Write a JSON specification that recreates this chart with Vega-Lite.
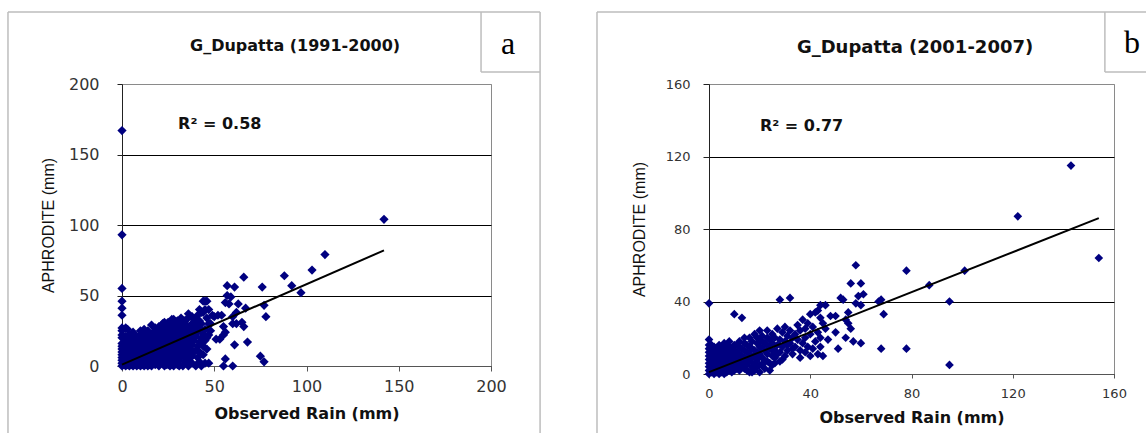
{
  "$schema": "https://vega.github.io/schema/vega-lite/v6.json",
  "padding": {"left": 6, "top": 10, "right": 1, "bottom": 0},
  "background": "white",
  "spacing": 53,
  "config": {
    "view": {"stroke": "#8a8a8a", "strokeWidth": 1},
    "axis": {"labelColor": "#333", "titleColor": "#111", "labelFont": "DejaVu Sans", "titleFont": "DejaVu Sans", "labelFlush": false}
  },
  "datasets": {
    "one": [{}],
    "a": [
      {"x":0,"y":0},{"x":0,"y":2},{"x":0,"y":4},{"x":0,"y":6},{"x":0,"y":8},{"x":0,"y":10},{"x":0,"y":12},{"x":0,"y":14},{"x":0,"y":16},{"x":0,"y":20},{"x":0,"y":22},{"x":0,"y":25},{"x":0,"y":27},{"x":0,"y":36},{"x":0,"y":41},{"x":0,"y":46},{"x":0,"y":55},{"x":0,"y":93},{"x":0,"y":167},{"x":2,"y":27},{"x":3,"y":20},{"x":3,"y":26},
      {"x":1,"y":1},{"x":1,"y":3},{"x":1,"y":5},{"x":1,"y":7},{"x":1,"y":9},{"x":1,"y":11},{"x":1,"y":13},{"x":1,"y":15},{"x":2,"y":0},{"x":2,"y":2},{"x":2,"y":4},{"x":2,"y":6},{"x":2,"y":8},{"x":2,"y":10},{"x":2,"y":12},{"x":2,"y":14},{"x":2,"y":17},{"x":3,"y":1},{"x":3,"y":3},{"x":3,"y":5},{"x":3,"y":7},{"x":3,"y":9},{"x":3,"y":11},{"x":3,"y":13},{"x":3,"y":16},{"x":4,"y":0},{"x":4,"y":2},{"x":4,"y":4},{"x":4,"y":6},{"x":4,"y":8},{"x":4,"y":10},{"x":4,"y":12},{"x":4,"y":14},{"x":4,"y":18},{"x":5,"y":1},{"x":5,"y":3},{"x":5,"y":5},{"x":5,"y":7},{"x":5,"y":9},{"x":5,"y":11},{"x":5,"y":13},{"x":5,"y":15},{"x":5,"y":19},{"x":6,"y":0},{"x":6,"y":2},{"x":6,"y":4},{"x":6,"y":6},{"x":6,"y":8},{"x":6,"y":10},{"x":6,"y":12},{"x":6,"y":16},{"x":6,"y":20},{"x":7,"y":1},{"x":7,"y":3},{"x":7,"y":5},{"x":7,"y":7},{"x":7,"y":9},{"x":7,"y":11},{"x":7,"y":14},{"x":7,"y":18},{"x":8,"y":0},{"x":8,"y":2},{"x":8,"y":4},{"x":8,"y":6},{"x":8,"y":8},{"x":8,"y":10},{"x":8,"y":13},{"x":8,"y":17},{"x":8,"y":21},{"x":9,"y":1},{"x":9,"y":3},{"x":9,"y":5},{"x":9,"y":7},{"x":9,"y":9},{"x":9,"y":12},{"x":9,"y":15},{"x":9,"y":19},{"x":10,"y":0},{"x":10,"y":2},{"x":10,"y":4},{"x":10,"y":6},{"x":10,"y":8},{"x":10,"y":11},{"x":10,"y":14},{"x":10,"y":17},{"x":10,"y":22},{"x":11,"y":1},{"x":11,"y":3},{"x":11,"y":5},{"x":11,"y":7},{"x":11,"y":10},{"x":11,"y":13},{"x":11,"y":16},{"x":11,"y":20},{"x":12,"y":0},{"x":12,"y":2},{"x":12,"y":4},{"x":12,"y":6},{"x":12,"y":9},{"x":12,"y":12},{"x":12,"y":15},{"x":12,"y":18},{"x":12,"y":23},{"x":13,"y":1},{"x":13,"y":3},{"x":13,"y":5},{"x":13,"y":8},{"x":13,"y":11},{"x":13,"y":14},{"x":13,"y":17},{"x":13,"y":21},{"x":14,"y":0},{"x":14,"y":2},{"x":14,"y":4},{"x":14,"y":7},{"x":14,"y":10},{"x":14,"y":13},{"x":14,"y":16},{"x":14,"y":19},{"x":14,"y":25},{"x":15,"y":1},{"x":15,"y":3},{"x":15,"y":6},{"x":15,"y":9},{"x":15,"y":12},{"x":15,"y":15},{"x":15,"y":18},{"x":15,"y":22},{"x":16,"y":0},{"x":16,"y":2},{"x":16,"y":5},{"x":16,"y":8},{"x":16,"y":11},{"x":16,"y":14},{"x":16,"y":17},{"x":16,"y":20},{"x":16,"y":29},{"x":17,"y":4},{"x":17,"y":7},{"x":17,"y":10},{"x":17,"y":13},{"x":17,"y":16},{"x":17,"y":19},{"x":17,"y":24},{"x":18,"y":1},{"x":18,"y":6},{"x":18,"y":9},{"x":18,"y":12},{"x":18,"y":15},{"x":18,"y":18},{"x":18,"y":22},{"x":19,"y":3},{"x":19,"y":8},{"x":19,"y":11},{"x":19,"y":14},{"x":19,"y":17},{"x":19,"y":21},{"x":19,"y":26},{"x":20,"y":0},{"x":20,"y":5},{"x":20,"y":10},{"x":20,"y":13},{"x":20,"y":16},{"x":20,"y":20},{"x":20,"y":24},
      {"x":21,"y":7},{"x":21,"y":12},{"x":21,"y":15},{"x":21,"y":19},{"x":21,"y":23},{"x":21,"y":28},{"x":22,"y":2},{"x":22,"y":10},{"x":22,"y":14},{"x":22,"y":18},{"x":22,"y":22},{"x":22,"y":26},{"x":23,"y":0},{"x":23,"y":8},{"x":23,"y":13},{"x":23,"y":17},{"x":23,"y":21},{"x":23,"y":25},{"x":23,"y":31},{"x":24,"y":5},{"x":24,"y":11},{"x":24,"y":16},{"x":24,"y":20},{"x":24,"y":24},{"x":24,"y":28},{"x":25,"y":1},{"x":25,"y":9},{"x":25,"y":14},{"x":25,"y":19},{"x":25,"y":23},{"x":25,"y":27},{"x":26,"y":0},{"x":26,"y":12},{"x":26,"y":17},{"x":26,"y":21},{"x":26,"y":25},{"x":26,"y":30},{"x":27,"y":4},{"x":27,"y":10},{"x":27,"y":15},{"x":27,"y":20},{"x":27,"y":24},{"x":27,"y":29},{"x":28,"y":0},{"x":28,"y":8},{"x":28,"y":13},{"x":28,"y":18},{"x":28,"y":22},{"x":28,"y":27},{"x":28,"y":33},{"x":29,"y":11},{"x":29,"y":16},{"x":29,"y":21},{"x":29,"y":26},{"x":29,"y":31},{"x":30,"y":2},{"x":30,"y":6},{"x":30,"y":14},{"x":30,"y":19},{"x":30,"y":24},{"x":30,"y":29},{"x":31,"y":0},{"x":31,"y":10},{"x":31,"y":17},{"x":31,"y":22},{"x":31,"y":27},{"x":32,"y":13},{"x":32,"y":20},{"x":32,"y":25},{"x":32,"y":30},{"x":33,"y":0},{"x":33,"y":8},{"x":33,"y":16},{"x":33,"y":23},{"x":33,"y":28},{"x":34,"y":11},{"x":34,"y":19},{"x":34,"y":26},{"x":34,"y":32},{"x":35,"y":4},{"x":35,"y":14},{"x":35,"y":21},{"x":35,"y":29},{"x":36,"y":0},{"x":36,"y":9},{"x":36,"y":17},{"x":36,"y":24},{"x":36,"y":37},{"x":37,"y":12},{"x":37,"y":20},{"x":37,"y":27},{"x":38,"y":7},{"x":38,"y":15},{"x":38,"y":23},{"x":38,"y":30},{"x":39,"y":18},{"x":39,"y":26},{"x":39,"y":33},{"x":40,"y":0},{"x":40,"y":11},{"x":40,"y":21},{"x":40,"y":29},{"x":41,"y":14},{"x":41,"y":24},{"x":41,"y":36},{"x":42,"y":17},{"x":42,"y":27},{"x":42,"y":32},{"x":43,"y":20},{"x":43,"y":30},{"x":43,"y":38},{"x":44,"y":23},{"x":44,"y":46},{"x":45,"y":2},{"x":45,"y":18},{"x":45,"y":26},{"x":45,"y":40},{"x":46,"y":46},{"x":46,"y":34},{"x":47,"y":22},{"x":47,"y":30},{"x":48,"y":25},{"x":49,"y":36},{"x":50,"y":35},{"x":51,"y":19},{"x":52,"y":36},{"x":53,"y":19},{"x":54,"y":36},{"x":55,"y":22},{"x":55,"y":28},{"x":56,"y":24},{"x":56,"y":45},{"x":57,"y":57},{"x":57,"y":50},{"x":58,"y":44},{"x":59,"y":49},{"x":60,"y":35},{"x":61,"y":56},{"x":62,"y":38},{"x":63,"y":44},{"x":56,"y":5},{"x":55,"y":0},{"x":60,"y":0},{"x":60,"y":30},{"x":61,"y":15},{"x":62,"y":30},{"x":65,"y":31},{"x":66,"y":28},{"x":66,"y":63},{"x":67,"y":41},{"x":68,"y":17},{"x":75,"y":7},{"x":76,"y":56},{"x":77,"y":3},{"x":77,"y":43},{"x":78,"y":35},{"x":88,"y":64},{"x":92,"y":57},{"x":97,"y":52},{"x":103,"y":68},{"x":110,"y":79},{"x":142,"y":104},{"x":45,"y":46},{"x":44,"y":38},{"x":42,"y":40},{"x":24,"y":1},{"x":30,"y":1},{"x":43,"y":0},{"x":47,"y":2},
      {"x":21,"y":3},{"x":22,"y":6},{"x":24,"y":8},{"x":26,"y":4},{"x":26,"y":8},{"x":27,"y":1},{"x":29,"y":4},{"x":29,"y":7},{"x":31,"y":4},{"x":32,"y":8},{"x":34,"y":3},{"x":34,"y":6},{"x":36,"y":5},{"x":37,"y":8},{"x":38,"y":2},{"x":39,"y":10},{"x":41,"y":6},{"x":42,"y":3},{"x":42,"y":10},{"x":44,"y":8},{"x":44,"y":14},{"x":46,"y":12},{"x":46,"y":20},{"x":48,"y":30},{"x":47,"y":40},{"x":40,"y":33},{"x":38,"y":35},{"x":35,"y":33},{"x":32,"y":34},{"x":20,"y":28},{"x":18,"y":27},{"x":10,"y":25},{"x":6,"y":24},{"x":4,"y":22},{"x":2,"y":21},{"x":12,"y":26},{"x":22,"y":30},{"x":25,"y":31},{"x":27,"y":33},{"x":30,"y":32}
    ],
    "b": [
      {"x":0,"y":0},{"x":0,"y":2},{"x":0,"y":4},{"x":0,"y":6},{"x":0,"y":8},{"x":0,"y":10},{"x":0,"y":12},{"x":0,"y":14},{"x":0,"y":16},{"x":0,"y":19},{"x":0,"y":39},
      {"x":1,"y":1},{"x":1,"y":3},{"x":1,"y":5},{"x":1,"y":7},{"x":1,"y":9},{"x":1,"y":11},{"x":1,"y":13},{"x":1,"y":16},{"x":2,"y":0},{"x":2,"y":2},{"x":2,"y":4},{"x":2,"y":6},{"x":2,"y":8},{"x":2,"y":10},{"x":2,"y":12},{"x":2,"y":15},{"x":3,"y":1},{"x":3,"y":3},{"x":3,"y":5},{"x":3,"y":7},{"x":3,"y":9},{"x":3,"y":11},{"x":3,"y":14},{"x":4,"y":0},{"x":4,"y":2},{"x":4,"y":4},{"x":4,"y":6},{"x":4,"y":8},{"x":4,"y":10},{"x":4,"y":13},{"x":4,"y":16},{"x":5,"y":1},{"x":5,"y":3},{"x":5,"y":5},{"x":5,"y":7},{"x":5,"y":9},{"x":5,"y":12},{"x":5,"y":15},{"x":6,"y":0},{"x":6,"y":2},{"x":6,"y":4},{"x":6,"y":6},{"x":6,"y":8},{"x":6,"y":11},{"x":6,"y":14},{"x":7,"y":1},{"x":7,"y":3},{"x":7,"y":5},{"x":7,"y":7},{"x":7,"y":10},{"x":7,"y":13},{"x":7,"y":16},{"x":8,"y":2},{"x":8,"y":4},{"x":8,"y":6},{"x":8,"y":9},{"x":8,"y":12},{"x":8,"y":15},{"x":9,"y":1},{"x":9,"y":3},{"x":9,"y":5},{"x":9,"y":8},{"x":9,"y":11},{"x":9,"y":14},{"x":10,"y":2},{"x":10,"y":4},{"x":10,"y":7},{"x":10,"y":10},{"x":10,"y":13},{"x":10,"y":33},{"x":11,"y":3},{"x":11,"y":6},{"x":11,"y":9},{"x":11,"y":12},{"x":11,"y":16},{"x":12,"y":2},{"x":12,"y":5},{"x":12,"y":8},{"x":12,"y":11},{"x":12,"y":15},{"x":13,"y":4},{"x":13,"y":7},{"x":13,"y":10},{"x":13,"y":14},{"x":13,"y":31},{"x":14,"y":3},{"x":14,"y":6},{"x":14,"y":9},{"x":14,"y":13},{"x":14,"y":17},{"x":15,"y":2},{"x":15,"y":5},{"x":15,"y":8},{"x":15,"y":12},{"x":15,"y":16},{"x":16,"y":1},{"x":16,"y":7},{"x":16,"y":11},{"x":16,"y":15},{"x":16,"y":20},{"x":17,"y":4},{"x":17,"y":9},{"x":17,"y":14},{"x":17,"y":18},{"x":18,"y":6},{"x":18,"y":10},{"x":18,"y":13},{"x":18,"y":22},{"x":19,"y":8},{"x":19,"y":12},{"x":19,"y":17},{"x":20,"y":5},{"x":20,"y":11},{"x":20,"y":15},{"x":20,"y":19},{"x":20,"y":24},{"x":21,"y":9},{"x":21,"y":14},{"x":21,"y":21},{"x":22,"y":7},{"x":22,"y":13},{"x":22,"y":17},{"x":23,"y":11},{"x":23,"y":16},{"x":23,"y":24},{"x":24,"y":6},{"x":24,"y":14},{"x":24,"y":19},{"x":25,"y":10},{"x":25,"y":17},{"x":25,"y":22},{"x":26,"y":6},{"x":26,"y":13},{"x":26,"y":20},{"x":27,"y":16},{"x":27,"y":25},{"x":28,"y":7},{"x":28,"y":12},{"x":28,"y":19},{"x":28,"y":41},{"x":29,"y":15},{"x":29,"y":23},{"x":30,"y":18},{"x":30,"y":26},{"x":31,"y":13},{"x":31,"y":21},{"x":32,"y":17},{"x":32,"y":24},{"x":32,"y":42},{"x":33,"y":11},{"x":33,"y":20},{"x":34,"y":15},{"x":34,"y":22},{"x":35,"y":19},{"x":35,"y":27},{"x":36,"y":9},{"x":36,"y":13},{"x":36,"y":24},{"x":37,"y":17},{"x":37,"y":30},{"x":38,"y":12},{"x":38,"y":20},{"x":38,"y":25},{"x":39,"y":15},{"x":39,"y":28},{"x":40,"y":10},{"x":40,"y":22},{"x":40,"y":33},{"x":41,"y":14},{"x":41,"y":26},{"x":42,"y":34},{"x":42,"y":18},{"x":43,"y":11},{"x":43,"y":23},{"x":43,"y":35},{"x":44,"y":15},{"x":44,"y":20},{"x":44,"y":31},{"x":44,"y":38},{"x":45,"y":10},{"x":45,"y":28},{"x":46,"y":38},{"x":46,"y":25},{"x":47,"y":19},{"x":48,"y":32},{"x":50,"y":32},{"x":50,"y":23},{"x":51,"y":14},{"x":52,"y":42},{"x":53,"y":41},{"x":54,"y":20},{"x":54,"y":30},{"x":55,"y":28},{"x":55,"y":34},{"x":56,"y":25},{"x":56,"y":50},{"x":57,"y":18},{"x":58,"y":39},{"x":58,"y":60},{"x":59,"y":43},{"x":60,"y":17},{"x":60,"y":38},{"x":60,"y":50},{"x":61,"y":44},{"x":67,"y":40},{"x":68,"y":41},{"x":68,"y":14},{"x":69,"y":33},{"x":78,"y":57},{"x":78,"y":14},{"x":87,"y":49},{"x":95,"y":40},{"x":95,"y":5},{"x":101,"y":57},{"x":122,"y":87},{"x":143,"y":115},{"x":154,"y":64},
      {"x":17,"y":1},{"x":18,"y":2},{"x":19,"y":4},{"x":20,"y":1},{"x":21,"y":5},{"x":22,"y":3},{"x":23,"y":7},{"x":24,"y":2},{"x":25,"y":5},{"x":26,"y":9},{"x":27,"y":11},{"x":29,"y":8},{"x":30,"y":10},{"x":31,"y":16},{"x":33,"y":14},{"x":19,"y":20},{"x":21,"y":18},{"x":23,"y":20},{"x":25,"y":13},{"x":12,"y":18},{"x":14,"y":20},{"x":10,"y":16},{"x":8,"y":18},{"x":6,"y":17}
    ],
    "la": [{"x":0,"y":1},{"x":142,"y":82}],
    "lb": [{"x":0,"y":1},{"x":154,"y":86}]
  },
  "hconcat": [
    {
      "width": 369,
      "height": 282,
      "layer": [
        {
          "data": {"name": "a"},
          "mark": {"type": "point", "shape": "diamond", "filled": true, "color": "#000080", "size": 85, "opacity": 1},
          "encoding": {
            "x": {"field": "x", "type": "quantitative", "scale": {"domain": [0, 200], "nice": false, "padding": 0},
              "axis": {"values": [0, 50, 100, 150, 200], "grid": false, "domainColor": "#555", "tickColor": "#555", "tickSize": 5, "labelPadding": 7, "labelFontSize": 16, "title": "Observed Rain (mm)", "titleFontSize": 16, "titleFontWeight": "bold", "titlePadding": 11}},
            "y": {"field": "y", "type": "quantitative", "scale": {"domain": [0, 200], "nice": false, "padding": 0},
              "axis": {"values": [0, 50, 100, 150, 200], "grid": true, "gridColor": {"condition": {"test": "datum.value === 200", "value": "#8a8a8a"}, "value": "#000"}, "gridOpacity": 1, "domainColor": "#222", "tickColor": "#222", "tickSize": 5, "labelPadding": 18, "labelFontSize": 16, "title": "APHRODITE (mm)", "titleFont": "Liberation Sans", "titleFontSize": 16, "titleFontWeight": "normal", "titlePadding": 12}}
          }
        },
        {
          "data": {"name": "la"},
          "mark": {"type": "line", "color": "#000", "strokeWidth": 2},
          "encoding": {"x": {"field": "x", "type": "quantitative"}, "y": {"field": "y", "type": "quantitative"}}
        },
        {
          "data": {"name": "one"},
          "mark": {"type": "text", "text": "R² = 0.58", "font": "DejaVu Sans", "fontWeight": "bold", "fontSize": 16, "align": "left", "baseline": "middle", "color": "#111"},
          "encoding": {"x": {"datum": 30.4}, "y": {"datum": 171.3}}
        },
        {
          "data": {"name": "one"},
          "mark": {"type": "text", "text": "G_Dupatta (1991-2000)", "font": "DejaVu Sans", "fontWeight": "bold", "fontSize": 16, "align": "center", "baseline": "middle", "color": "#111"},
          "encoding": {"x": {"datum": 93.8}, "y": {"datum": 227.3}}
        },
        {
          "data": {"name": "one"},
          "mark": {"type": "rule", "color": "#bdbdbd", "strokeWidth": 1.5},
          "encoding": {"x": {"datum": -61.8}, "y": {"datum": -48.2}, "y2": {"datum": 251.1}}
        },
        {
          "data": {"name": "one"},
          "mark": {"type": "rule", "color": "#bdbdbd", "strokeWidth": 1.5},
          "encoding": {"x": {"datum": -61.8}, "x2": {"datum": 226.6}, "y": {"datum": 251.1}}
        },
        {
          "data": {"name": "one"},
          "mark": {"type": "rule", "color": "#bdbdbd", "strokeWidth": 1.5},
          "encoding": {"x": {"datum": 226.6}, "y": {"datum": -48.2}, "y2": {"datum": 251.1}}
        },
        {
          "data": {"name": "one"},
          "mark": {"type": "rule", "color": "#bdbdbd", "strokeWidth": 1.5},
          "encoding": {"x": {"datum": 194.6}, "y": {"datum": 208.5}, "y2": {"datum": 251.1}}
        },
        {
          "data": {"name": "one"},
          "mark": {"type": "rule", "color": "#bdbdbd", "strokeWidth": 1.5},
          "encoding": {"x": {"datum": 194.6}, "x2": {"datum": 226.6}, "y": {"datum": 208.5}}
        },
        {
          "data": {"name": "one"},
          "mark": {"type": "text", "text": "a", "font": "Liberation Serif", "fontSize": 32, "align": "center", "baseline": "middle", "color": "#000"},
          "encoding": {"x": {"datum": 209.2}, "y": {"datum": 228.5}}
        }
      ]
    },
    {
      "width": 405,
      "height": 290,
      "layer": [
        {
          "data": {"name": "b"},
          "mark": {"type": "point", "shape": "diamond", "filled": true, "color": "#000080", "size": 75, "opacity": 1},
          "encoding": {
            "x": {"field": "x", "type": "quantitative", "scale": {"domain": [0, 160], "nice": false, "padding": 0},
              "axis": {"values": [0, 40, 80, 120, 160], "grid": false, "domainColor": "#555", "tickColor": "#555", "tickSize": 4, "labelPadding": 9, "labelFontSize": 13, "title": "Observed Rain (mm)", "titleFontSize": 16, "titleFontWeight": "bold", "titlePadding": 9}},
            "y": {"field": "y", "type": "quantitative", "scale": {"domain": [0, 160], "nice": false, "padding": 0},
              "axis": {"values": [0, 40, 80, 120, 160], "grid": true, "gridColor": {"condition": {"test": "datum.value === 160", "value": "#8a8a8a"}, "value": "#000"}, "gridOpacity": 1, "domainColor": "#222", "tickColor": "#222", "tickSize": 6, "labelPadding": 13, "labelFontSize": 13, "title": "APHRODITE (mm)", "titleFont": "Liberation Sans", "titleFontSize": 16, "titleFontWeight": "normal", "titlePadding": 18}}
          }
        },
        {
          "data": {"name": "lb"},
          "mark": {"type": "line", "color": "#000", "strokeWidth": 2},
          "encoding": {"x": {"field": "x", "type": "quantitative"}, "y": {"field": "y", "type": "quantitative"}}
        },
        {
          "data": {"name": "one"},
          "mark": {"type": "text", "text": "R² = 0.77", "font": "DejaVu Sans", "fontWeight": "bold", "fontSize": 16, "align": "left", "baseline": "middle", "color": "#111"},
          "encoding": {"x": {"datum": 20.1}, "y": {"datum": 136.8}}
        },
        {
          "data": {"name": "one"},
          "mark": {"type": "text", "text": "G_Dupatta (2001-2007)", "font": "DejaVu Sans", "fontWeight": "bold", "fontSize": 18, "align": "center", "baseline": "middle", "color": "#111"},
          "encoding": {"x": {"datum": 81.4}, "y": {"datum": 179.9}}
        },
        {
          "data": {"name": "one"},
          "mark": {"type": "rule", "color": "#bdbdbd", "strokeWidth": 1.5},
          "encoding": {"x": {"datum": -44.25}, "y": {"datum": -33.1}, "y2": {"datum": 199.7}}
        },
        {
          "data": {"name": "one"},
          "mark": {"type": "rule", "color": "#bdbdbd", "strokeWidth": 1.5},
          "encoding": {"x": {"datum": -44.25}, "x2": {"datum": 174.6}, "y": {"datum": 199.7}}
        },
        {
          "data": {"name": "one"},
          "mark": {"type": "rule", "color": "#bdbdbd", "strokeWidth": 1.5},
          "encoding": {"x": {"datum": 156.4}, "y": {"datum": 166.6}, "y2": {"datum": 199.7}}
        },
        {
          "data": {"name": "one"},
          "mark": {"type": "rule", "color": "#bdbdbd", "strokeWidth": 1.5},
          "encoding": {"x": {"datum": 156.4}, "x2": {"datum": 174.6}, "y": {"datum": 166.6}}
        },
        {
          "data": {"name": "one"},
          "mark": {"type": "text", "text": "b", "font": "Liberation Serif", "fontSize": 32, "align": "center", "baseline": "middle", "color": "#000"},
          "encoding": {"x": {"datum": 167.1}, "y": {"datum": 182.6}}
        }
      ]
    }
  ]
}
